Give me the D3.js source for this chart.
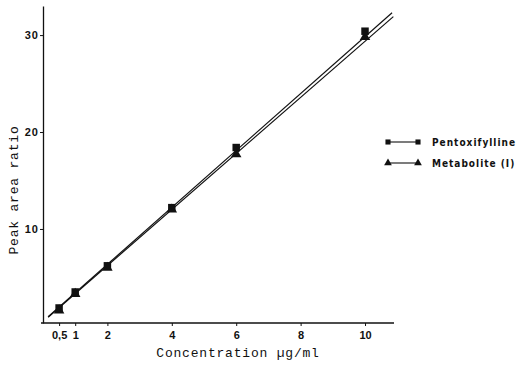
<!DOCTYPE html>
<html>
<head>
<meta charset="utf-8">
<script src="https://cdn.jsdelivr.net/npm/d3@7"></script>
<style>
  body { margin: 0; background: #fff; }
  svg { display: block; }
  .tick-lab { font-family: "Liberation Sans", Arial, sans-serif; font-weight: bold; font-size: 11px; fill: #111; }
  .title { font-family: "Liberation Mono", "DejaVu Sans Mono", monospace; font-size: 13px; letter-spacing: 0.8px; fill: #111; }
  .legend { font-family: "DejaVu Sans Condensed", "Liberation Sans Narrow", sans-serif; font-weight: bold; font-size: 10px; letter-spacing: 1px; fill: #111; }
</style>
</head>
<body>
<svg id="chart" width="532" height="366"></svg>
<script>
// concentrations (µg/ml)
const concentrations = [0.5, 1, 2, 4, 6, 10];
// peak area ratios
const pentoxifylline = [1.85, 3.5, 6.2, 12.2, 18.4, 30.4];
const metabolite = [1.6, 3.3, 6.0, 12.0, 17.7, 29.8];
// fitted lines, end points as read
const pentoxLine = [[0.16, 0.95], [10.84, 32.3]];
const metabLine = [[0.16, 0.9], [10.88, 31.9]];

const xTicks = [0.5, 1, 2, 4, 6, 8, 10];
const xTickLabels = ['0,5', '1', '2', '4', '6', '8', '10'];
const yTicks = [10, 20, 30];
const seriesNames = ['Pentoxifylline', 'Metabolite (I)'];

const svg = d3.select('#chart');
const ink = '#111';

const x = d3.scaleLinear().domain([0, 10.9]).range([43, 394]);
const y = d3.scaleLinear().domain([0.3, 33]).range([323, 6]);

// axes
const xAxis = svg.append('g')
  .attr('transform', 'translate(0,' + y(0.3) + ')')
  .call(d3.axisBottom(x).tickValues(xTicks).tickSize(3).tickSizeOuter(0)
    .tickFormat((d, i) => xTickLabels[i]));
xAxis.select('.domain').attr('stroke', ink).attr('stroke-width', 1.3)
  .attr('d', 'M' + (x(0) - 2) + ',0H' + x(10.9));
xAxis.selectAll('.tick line').attr('stroke', ink);
xAxis.selectAll('.tick text').attr('class', 'tick-lab').attr('dy', '0.9em');

const yAxis = svg.append('g')
  .attr('transform', 'translate(' + x(0) + ',0)')
  .call(d3.axisLeft(y).tickValues(yTicks).tickSize(3).tickSizeOuter(0));
yAxis.select('.domain').attr('stroke', ink).attr('stroke-width', 1.3);
yAxis.selectAll('.tick line').attr('stroke', ink);
yAxis.selectAll('.tick text').attr('class', 'tick-lab').attr('x', -4)
  .style('letter-spacing', '1px');

// axis titles
svg.append('text').attr('class', 'title')
  .attr('x', 238).attr('y', 357).attr('text-anchor', 'middle')
  .text('Concentration µg/ml');
svg.append('text').attr('class', 'title')
  .attr('transform', 'translate(18,190) rotate(-90)')
  .attr('text-anchor', 'middle')
  .text('Peak area ratio');

// fitted lines
const line = d3.line().x(d => x(d[0])).y(d => y(d[1]));
[pentoxLine, metabLine].forEach(l => {
  svg.append('path').attr('d', line(l))
    .attr('fill', 'none').attr('stroke', ink).attr('stroke-width', 1.2);
});

// markers
const sq = d3.symbol().type(d3.symbolSquare).size(56);
const tri = d3.symbol().type(d3.symbolTriangle).size(48);

svg.append('g').selectAll('path')
  .data(concentrations.map((c, i) => [c, metabolite[i]]))
  .join('path')
  .attr('d', tri)
  .attr('transform', d => 'translate(' + x(d[0]) + ',' + y(d[1]) + ')')
  .attr('fill', ink);

svg.append('g').selectAll('path')
  .data(concentrations.map((c, i) => [c, pentoxifylline[i]]))
  .join('path')
  .attr('d', sq)
  .attr('transform', d => 'translate(' + x(d[0]) + ',' + y(d[1]) + ')')
  .attr('fill', ink);

// legend
const legend = svg.append('g').attr('transform', 'translate(388,142)');
seriesNames.forEach((name, i) => {
  const g = legend.append('g').attr('transform', 'translate(0,' + i * 21 + ')');
  g.append('line').attr('x1', 0).attr('x2', 30).attr('y1', 0).attr('y2', 0)
    .attr('stroke', ink).attr('stroke-width', 1.1);
  const sym = i === 0 ? d3.symbol().type(d3.symbolSquare).size(26) : d3.symbol().type(d3.symbolTriangle).size(26);
  [0, 30].forEach(px => {
    g.append('path').attr('d', sym).attr('transform', 'translate(' + px + ',0)').attr('fill', ink);
  });
  g.append('text').attr('class', 'legend').attr('x', 44).attr('y', 0).attr('dy', '0.35em').text(name);
});
</script>
</body>
</html>
